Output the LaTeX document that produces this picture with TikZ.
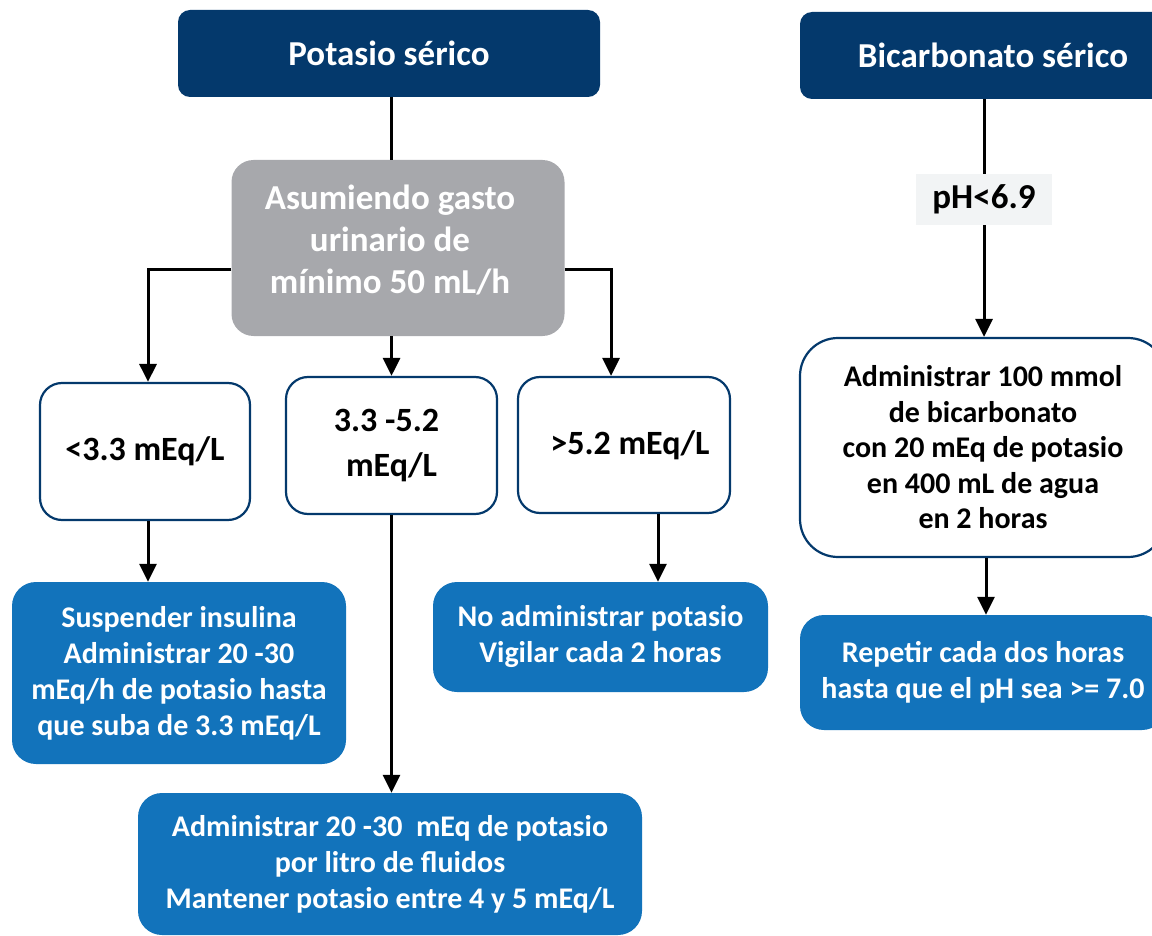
\documentclass[tikz,border=0pt]{standalone}
\usepackage{fontspec}
\setmainfont{Carlito}
\usetikzlibrary{arrows.meta}

\definecolor{azuloscuro}{RGB}{4,57,108}
\definecolor{grisbox}{RGB}{167,168,172}
\definecolor{azulbox}{RGB}{18,115,187}
\definecolor{grisclaro}{RGB}{242,244,245}

\begin{document}
\begin{tikzpicture}[x=1pt,y=-1pt,
  titulo/.style={fill=azuloscuro,rounded corners=12pt,text=white,inner sep=0pt,
    font=\bfseries\fontsize{35}{41}\selectfont},
  condicion/.style={fill=grisbox,rounded corners=22pt,text=white,inner sep=0pt,align=center,
    font=\bfseries\fontsize{35}{42}\selectfont},
  rango/.style={draw=azuloscuro,line width=2.2pt,fill=white,rounded corners=22pt,inner sep=0pt,
    align=center,font=\bfseries\fontsize{34}{45}\selectfont},
  accion/.style={fill=azulbox,rounded corners=24pt,text=white,inner sep=0pt,align=center,
    font=\bfseries\fontsize{30}{36}\selectfont},
  etiqueta/.style={fill=grisclaro,inner sep=0pt,font=\bfseries\fontsize{35}{36}\selectfont},
  linea/.style={line width=3pt},
  flecha/.style={line width=3pt,-{Triangle[length=18pt,width=17pt]}}]
\useasboundingbox (0,0) rectangle (1152,936);

% potasio
\node[titulo,minimum width=422pt,minimum height=87pt] (potasio) at (389,53.5) {Potasio sérico};
\node[condicion,minimum width=333pt,minimum height=176pt] (gasto) at (398,248)
  {Asumiendo gasto\rule{16pt}{0pt}\\urinario de\rule{16pt}{0pt}\\mínimo 50 mL/h\rule{16pt}{0pt}\\[-24pt]};

\node[rango,minimum width=210pt,minimum height=137pt] (bajo) at (145,451.5) {<3.3 mEq/L};
\node[rango,minimum width=211pt,minimum height=137pt] (medio) at (391.5,445.5)
  {3.3 -5.2\rule{10pt}{0pt}\\mEq/L};
\node[rango,minimum width=212pt,minimum height=136pt] (alto) at (624,445)
  {\rule{12pt}{0pt}>5.2 mEq/L};

\node[accion,minimum width=334pt,minimum height=182pt] (suspender) at (179,673)
  {Suspender insulina\\Administrar 20 -30\\mEq/h de potasio hasta\\que suba de 3.3 mEq/L};
\node[accion,minimum width=335pt,minimum height=110pt] (vigilar) at (600.5,637)
  {No administrar potasio\\Vigilar cada 2 horas};
\node[accion,minimum width=504pt,minimum height=142pt] (mantener) at (390,864)
  {Administrar 20 -30 \ mEq de potasio\\por litro de fluidos\\Mantener potasio entre 4 y 5 mEq/L};

\draw[linea] (potasio.south -| 391,0) -- (gasto.north -| 391,0);
\draw[flecha] ([yshift=-22pt]gasto.west) -| ([xshift=3pt]bajo.north);
\draw[flecha] (gasto.south -| medio.north) -- (medio.north);
\draw[flecha] ([yshift=-22pt]gasto.east) -| ([xshift=-13pt]alto.north);
\draw[flecha] ([xshift=3pt]bajo.south) -- ([xshift=3pt]bajo.south |- suspender.north);
\draw[flecha] (medio.south) -- (medio.south |- mantener.north);
\draw[flecha] ([xshift=34pt]alto.south) -- ([xshift=34pt]alto.south |- vigilar.north);

% bicarbonato
\node[titulo,minimum width=386pt,minimum height=87pt] (bicarbonato) at (993,55.5) {Bicarbonato sérico};
\node[etiqueta,minimum width=136pt,minimum height=51pt] (ph) at (984,199.5) {pH<6.9};
\node[rango,rounded corners=38pt,minimum width=366pt,minimum height=219pt,
  font=\bfseries\fontsize{30}{35.5}\selectfont] (administrar) at (983,447.5)
  {Administrar 100 mmol\\de bicarbonato\\con 20 mEq de potasio\\en 400 mL de agua\\en 2 horas};
\node[accion,minimum width=366pt,minimum height=115pt] (repetir) at (983,672.5)
  {Repetir cada dos horas\\hasta que el pH sea >= 7.0};

\draw[linea] (bicarbonato.south -| ph.north) -- (ph.north);
\draw[flecha] (ph.south) -- (ph.south |- administrar.north);
\draw[flecha] ([xshift=3pt]administrar.south) -- ([xshift=3pt]administrar.south |- repetir.north);
\end{tikzpicture}
\end{document}
